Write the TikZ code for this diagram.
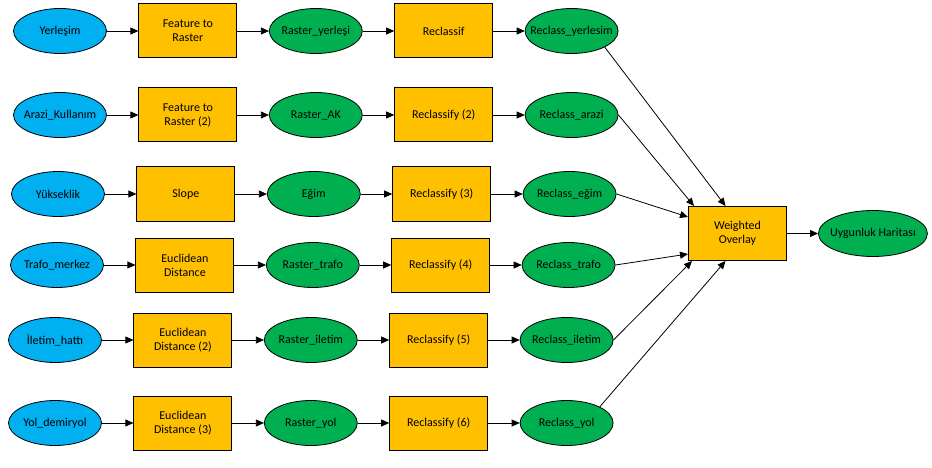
\documentclass[tikz,border=0pt]{standalone}
\usepackage{fontspec}
\setmainfont{Carlito}
\usepackage{tikz}
\usetikzlibrary{arrows.meta,shapes,positioning}
\definecolor{srcblue}{RGB}{0,176,240}
\definecolor{outgreen}{RGB}{0,176,80}
\definecolor{toolorange}{RGB}{255,192,0}
\tikzset{
  every picture/.style = {
    line width = 0.8pt,
    >={Triangle[length=8pt,width=7pt]},
    node distance = 1em and 31.5pt,
  }
  , % input layers
  input/.style = {
    ellipse,
    draw,
    fill = srcblue,
    inner sep = 0pt,
    minimum width = 93pt,
    minimum height = 45pt
  }
  , % derived rasters
  raster/.style = {
    ellipse,
    draw,
    fill = outgreen,
    inner sep = 0pt,
    minimum width = 93pt,
    minimum height = 45pt
  }
  , % geoprocessing tools
  tool/.style = {
    rectangle,
    draw,
    fill = toolorange,
    align = center,
    line width = 1pt,
    minimum width = 98pt,
    minimum height = 54pt
  }
}

\begin{document}
\begin{tikzpicture}[->, x=1pt, y=-1pt, font=\fontsize{12}{14}\selectfont]
\useasboundingbox (0,0) rectangle (932,468);

\node [input, label=center:Yerleşim] (s1) at (60,31) {};
\node [tool, right = 31.5pt of s1] (f1) {Feature to\\Raster};
\node [raster, label=center:Raster\_yerleşi, right = 31.5pt of f1] (r1) {};
\node [tool, right = 31.5pt of r1] (c1) {Reclassif};
\node [raster, label=center:Reclass\_yerlesim, right = 31.5pt of c1] (k1) {};

\node [input, label=center:Arazi\_Kullanım] (s2) at (60,115) {};
\node [tool, right = 31.5pt of s2] (f2) {Feature to\\Raster (2)};
\node [raster, label=center:Raster\_AK, right = 31.5pt of f2] (r2) {};
\node [tool, right = 31.5pt of r2] (c2) {Reclassify (2)};
\node [raster, label=center:Reclass\_arazi, right = 31.5pt of c2] (k2) {};

\node [input, label=center:Yükseklik] (s3) at (58,194) {};
\node [tool, right = 31.5pt of s3] (f3) {Slope};
\node [raster, label=center:Eğim, right = 31.5pt of f3] (r3) {};
\node [tool, right = 31.5pt of r3] (c3) {Reclassify (3)};
\node [raster, label=center:Reclass\_eğim, right = 31.5pt of c3] (k3) {};

\node [input, label=center:Trafo\_merkez] (s4) at (57,265) {};
\node [tool, right = 31.5pt of s4] (f4) {Euclidean\\Distance};
\node [raster, label=center:Raster\_trafo, right = 31.5pt of f4] (r4) {};
\node [tool, right = 31.5pt of r4] (c4) {Reclassify (4)};
\node [raster, label=center:Reclass\_trafo, right = 31.5pt of c4] (k4) {};

\node [input, label=center:İletim\_hattı] (s5) at (55,340) {};
\node [tool, right = 31.5pt of s5] (f5) {Euclidean\\Distance (2)};
\node [raster, label=center:Raster\_iletim, right = 31.5pt of f5] (r5) {};
\node [tool, right = 31.5pt of r5] (c5) {Reclassify (5)};
\node [raster, label=center:Reclass\_iletim, right = 31.5pt of c5] (k5) {};

\node [input, label=center:Yol\_demiryol] (s6) at (55,423) {};
\node [tool, right = 31.5pt of s6] (f6) {Euclidean\\Distance (3)};
\node [raster, label=center:Raster\_yol, right = 31.5pt of f6] (r6) {};
\node [tool, right = 31.5pt of r6] (c6) {Reclassify (6)};
\node [raster, label=center:Reclass\_yol, right = 31.5pt of c6] (k6) {};

\node [tool] (wo) at (737.5,233.5) {Weighted\\Overlay};
\node [raster, minimum width = 109pt, minimum height = 46pt,
  label=center:Uygunluk Haritası, right = 31pt of wo] (uh) {};

\path (s1) edge (f1) (f1) edge (r1) (r1) edge (c1) (c1) edge (k1);
\path (s2) edge (f2) (f2) edge (r2) (r2) edge (c2) (c2) edge (k2);
\path (s3) edge (f3) (f3) edge (r3) (r3) edge (c3) (c3) edge (k3);
\path (s4) edge (f4) (f4) edge (r4) (r4) edge (c4) (c4) edge (k4);
\path (s5) edge (f5) (f5) edge (r5) (r5) edge (c5) (c5) edge (k5);
\path (s6) edge (f6) (f6) edge (r6) (r6) edge (c6) (c6) edge (k6);

\path (k1.south east) edge ([xshift=-12pt]wo.north);
\path (k2.east) edge ([xshift=6pt]wo.north west);
\path (k3.east) edge ([yshift=-11pt]wo.north west);
\path (k4.east) edge ([yshift=7pt]wo.south west);
\path (k5.east) edge ([xshift=4pt]wo.south west);
\path (k6.north east) edge ([xshift=-12pt]wo.south);
\path (wo) edge (uh);
\end{tikzpicture}
\end{document}
